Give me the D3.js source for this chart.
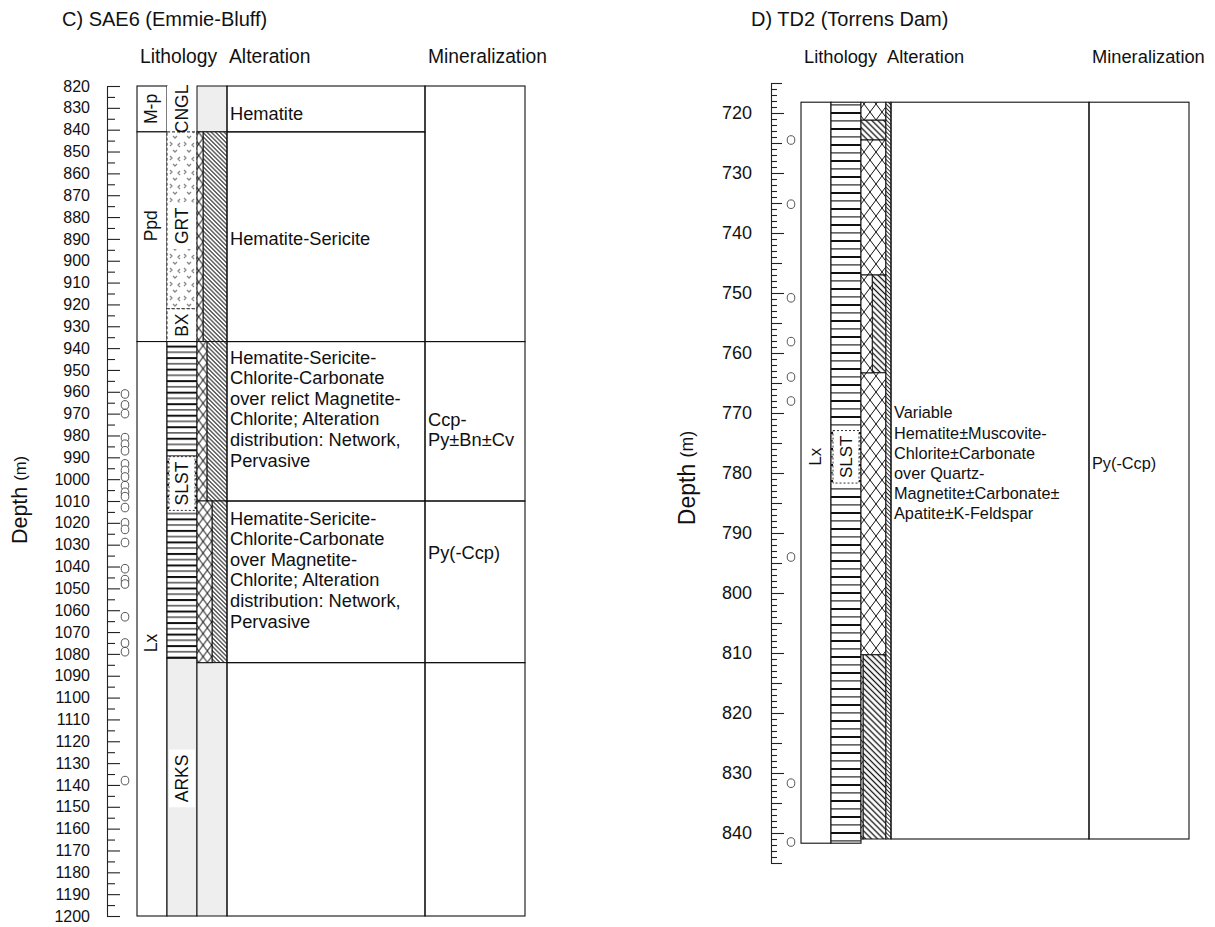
<!DOCTYPE html>
<html>
<head>
<meta charset="utf-8">
<script src="https://cdn.jsdelivr.net/npm/d3@7"></script>
<style>
	body { margin: 0; background: #fff; }
	text { font-family: "Liberation Sans", Arial, Helvetica, sans-serif; fill: #111; }
</style>
</head>
<body>
<div id="chart"></div>
<script>
(function() {
	// C) SAE6 (Emmie-Bluff) - depth ticks, units and logged intervals
	var cDepthTicks = [820, 830, 840, 850, 860, 870, 880, 890, 900, 910, 920, 930, 940, 950, 960, 970, 980, 990, 1000,
		1010, 1020, 1030, 1040, 1050, 1060, 1070, 1080, 1090, 1100, 1110, 1120, 1130, 1140, 1150, 1160, 1170, 1180, 1190, 1200];
	var cFormation = [
		{"name":"M-p","top":820,"bottom":841,"label":830.5},
		{"name":"Ppd","top":841,"bottom":937,"label":884},
		{"name":"Lx","top":937,"bottom":1200,"label":1075}
	];
	var cLithology = [
		{"name":"CNGL","top":820,"bottom":841,"label":830.5},
		{"name":"GRT","top":841,"bottom":922,"label":884},
		{"name":"BX","top":922,"bottom":937,"label":929.5},
		{"name":"SLST","top":937,"bottom":1082,"label":1002},
		{"name":"ARKS","top":1082,"bottom":1200,"label":1137}
	];
	// type = dominant alteration, relict = share of the column held by the older assemblage
	var cAlteration = [
		{"top":820,"bottom":841,"type":"none","relict":0},
		{"top":841,"bottom":937,"type":"hem-ser","relict":0.2},
		{"top":937,"bottom":1010,"type":"hem-ser","relict":0.33},
		{"top":1010,"bottom":1084,"type":"hem-ser","relict":0.5},
		{"top":1084,"bottom":1200,"type":"none","relict":0}
	];
	var cAlterationText = [
		{"top":820,"bottom":841,"center":832.4,"lines":["Hematite"]},
		{"top":841,"bottom":937,"center":889.6,"lines":["Hematite-Sericite"]},
		{"top":937,"bottom":1010,"center":967.7,"lines":["Hematite-Sericite-","Chlorite-Carbonate","over relict Magnetite-","Chlorite; Alteration","distribution: Network,","Pervasive"]},
		{"top":1010,"bottom":1084,"center":1041.4,"lines":["Hematite-Sericite-","Chlorite-Carbonate","over Magnetite-","Chlorite; Alteration","distribution: Network,","Pervasive"]},
		{"top":1084,"bottom":1200,"center":1142,"lines":[]}
	];
	var cMineralization = [
		{"top":820,"bottom":937,"center":878,"lines":[]},
		{"top":937,"bottom":1010,"center":977.3,"lines":["Ccp-","Py±Bn±Cv"]},
		{"top":1010,"bottom":1084,"center":1033.8,"lines":["Py(-Ccp)"]},
		{"top":1084,"bottom":1200,"center":1142,"lines":[]}
	];
	var cSamples = [961, 966, 970, 981, 984, 987, 993, 996, 999, 1003, 1006, 1008, 1013, 1020, 1023, 1029,
		1041, 1046, 1048, 1063, 1075, 1079, 1138];

	// D) TD2 (Torrens Dam)
	var dDepthTicks = [720, 730, 740, 750, 760, 770, 780, 790, 800, 810, 820, 830, 840];
	var dFormation = [
		{"name":"Lx","top":718.2,"bottom":841.7,"label":777.3}
	];
	var dLithology = [
		{"name":"SLST","top":718.2,"bottom":841.7,"label":777.3}
	];
	var dAlteration = [
		{"top":718.2,"bottom":721.2,"type":"hem-chl","relict":0},
		{"top":721.2,"bottom":724.5,"type":"hem-ser","relict":0},
		{"top":724.5,"bottom":747,"type":"hem-chl","relict":0},
		{"top":747,"bottom":763.3,"type":"hem-ser","relict":0.45},
		{"top":763.3,"bottom":810.3,"type":"hem-chl","relict":0},
		{"top":810.3,"bottom":841,"type":"hem-ser","relict":0.08}
	];
	var dVeins = [
		{"top":718.2,"bottom":841,"type":"fine"}
	];
	var dAlterationText = [
		{"top":718.2,"bottom":841,"center":778.3,"lines":["Variable","Hematite±Muscovite-","Chlorite±Carbonate","over Quartz-","Magnetite±Carbonate±","Apatite±K-Feldspar"]}
	];
	var dMineralization = [
		{"top":718.2,"bottom":841,"center":778.3,"lines":["Py(-Ccp)"]}
	];
	var dSamples = [724.5, 735.2, 750.8, 758.1, 764, 768, 794, 831.7, 841.5];

	var headers = ["Lithology", "Alteration", "Mineralization"];

	var width = 1215,
		height = 927;

	var svg = d3.select("#chart")
				.append("svg")
				.attr("width", width)
				.attr("height", height);

	var defs = svg.append("defs");

	// patterns, k scales them (panel C was drawn smaller)
	function addPatterns(sfx, k) {
		var s = 4.2 * k;
		var hatch = defs.append("pattern")
			.attr("id", "hatch" + sfx)
			.attr("patternUnits", "userSpaceOnUse")
			.attr("width", s).attr("height", s)
			.attr("patternTransform", "rotate(-45)");
		hatch.append("rect").attr("width", s).attr("height", s).attr("fill", "#fff");
		hatch.append("line").attr("x1", s / 2).attr("x2", s / 2).attr("y1", 0).attr("y2", s)
			.attr("stroke", "#111").attr("stroke-width", 1.1 * k + 0.2);

		var fs = 2.8;
		var fine = defs.append("pattern")
			.attr("id", "fine" + sfx)
			.attr("patternUnits", "userSpaceOnUse")
			.attr("width", fs).attr("height", fs)
			.attr("patternTransform", "rotate(-45)");
		fine.append("rect").attr("width", fs).attr("height", fs).attr("fill", "#fff");
		fine.append("line").attr("x1", fs / 2).attr("x2", fs / 2).attr("y1", 0).attr("y2", fs)
			.attr("stroke", "#222").attr("stroke-width", 0.9);

		var dw = 12 * k, dh = 16 * k;
		var diamond = defs.append("pattern")
			.attr("id", "diamond" + sfx)
			.attr("patternUnits", "userSpaceOnUse")
			.attr("width", dw).attr("height", dh);
		diamond.append("rect").attr("width", dw).attr("height", dh).attr("fill", "#fff");
		diamond.append("path")
			.attr("d", "M0," + dh / 2 + "L" + dw / 2 + ",0L" + dw + "," + dh / 2 + "L" + dw / 2 + "," + dh + "Z")
			.attr("fill", "none").attr("stroke", "#111").attr("stroke-width", 1);

		var sh = 16 * k;
		var stripes = defs.append("pattern")
			.attr("id", "stripes" + sfx)
			.attr("patternUnits", "userSpaceOnUse")
			.attr("width", 10).attr("height", sh);
		stripes.append("rect").attr("width", 10).attr("height", sh).attr("fill", "#fff");
		stripes.append("rect").attr("y", 0).attr("width", 10).attr("height", 2).attr("fill", "#111");
		stripes.append("rect").attr("y", sh / 2).attr("width", 10).attr("height", 1.7).attr("fill", "#666");

		var granite = defs.append("pattern")
			.attr("id", "granite" + sfx)
			.attr("patternUnits", "userSpaceOnUse")
			.attr("width", 14).attr("height", 14);
		granite.append("rect").attr("width", 14).attr("height", 14).attr("fill", "#fff");
		granite.append("path")
			.attr("d", "M2,2l2,2l-2,2M12,3l-2,2l2,2M5,10l2,2l2,-2")
			.attr("fill", "none").attr("stroke", "#888").attr("stroke-width", 1.3);
	}
	addPatterns("C", 0.72);
	addPatterns("D", 1);

	var rockFill = {
		"CNGL": function() { return "#fff"; },
		"GRT": function(s) { return "url(#granite" + s + ")"; },
		"BX": function() { return "#fff"; },
		"SLST": function(s) { return "url(#stripes" + s + ")"; },
		"ARKS": function() { return "#eeeeee"; }
	};
	var rockStroke = { "CNGL": "none", "GRT": "#444", "BX": "#333", "SLST": "#111", "ARKS": "#111" };
	var rockDash = { "GRT": "3,2", "BX": "3,2" };
	var rockBox = { "GRT": "none", "SLST": "dash", "ARKS": "none" };
	var alterFill = {
		"none": function() { return "#eeeeee"; },
		"hem-ser": function(s) { return "url(#hatch" + s + ")"; },
		"hem-chl": function(s) { return "url(#diamond" + s + ")"; },
		"fine": function(s) { return "url(#fine" + s + ")"; }
	};

	var panels = [
		{
			"id":"C", "title":"C) SAE6 (Emmie-Bluff)", "ticks":cDepthTicks,
			"formation":cFormation, "lithology":cLithology, "alteration":cAlteration, "veins":null,
			"altText":cAlterationText, "mineral":cMineralization, "samples":cSamples,
			domain:[820, 1200], range:[86, 916], axisX:107, colX:137,
			minor:[{step:5, len:8}], majorLen:13, pad:17, tickFont:16,
			textFont:18.3, lineH:20.6, labelFont:17.5, sampleX:125,
			titleX:62, depthX:20, depthY:500, depthFont:21.5, altShare:1,
			headerFont:19.3, altHeaderDx:2
		},
		{
			"id":"D", "title":"D) TD2 (Torrens Dam)", "ticks":dDepthTicks,
			"formation":dFormation, "lithology":dLithology, "alteration":dAlteration, "veins":dVeins,
			"altText":dAlterationText, "mineral":dMineralization, "samples":dSamples,
			domain:[715, 845], range:[83, 863], axisX:771, colX:801,
			minor:[{step:1, len:6}, {step:5, len:11}], majorLen:13, pad:19, tickFont:18,
			textFont:16.3, lineH:20.2, labelFont:17, sampleX:791,
			titleX:751, depthX:687, depthY:478, depthFont:23, altShare:0.83,
			headerFont:18.3, altHeaderDx:-4
		}
	];

	var colWidths = [30, 30, 30, 198, 100];

	panels.forEach(function(p) {
		var g = svg.append("g");

		var yScale = d3.scaleLinear()
						.domain(p.domain)
						.range(p.range);

		var edges = [p.colX];
		colWidths.forEach(function(w, i) { edges.push(edges[i] + w); });

		// title and column headers
		g.append("text")
			.attr("x", p.titleX).attr("y", 26)
			.attr("font-size", 20)
			.text(p.title);

		var headerX = [edges[0] + 3, edges[3] + p.altHeaderDx, edges[4] + 3];
		g.selectAll(".hdr")
			.data(headers)
			.enter()
			.append("text")
			.attr("x", function(d, i) { return headerX[i]; })
			.attr("y", 63)
			.attr("font-size", p.headerFont)
			.text(function(d) { return d; });

		// depth axis: minor ticks, then labelled ticks
		p.minor.forEach(function(m) {
			var vals = d3.range(p.domain[0], p.domain[1] + 0.001, m.step).filter(function(v) {
				return v % 10 !== 0 && (m.step === 5 || v % 5 !== 0);
			});
			var mg = g.append("g")
				.attr("transform", "translate(" + p.axisX + ",0)")
				.call(d3.axisLeft(yScale).tickValues(vals).tickSizeInner(-m.len).tickSizeOuter(0).tickFormat(""));
			mg.select(".domain").remove();
		});
		var ax = g.append("g")
			.attr("transform", "translate(" + p.axisX + ",0)")
			.call(d3.axisLeft(yScale)
				.tickValues(p.ticks)
				.tickSizeInner(-p.majorLen)
				.tickSizeOuter(0)
				.tickPadding(p.pad)
				.tickFormat(d3.format("d")));
		ax.selectAll("line, path").attr("stroke", "#222").attr("stroke-width", 1.1);
		ax.selectAll("text")
			.attr("font-size", p.tickFont)
			.attr("font-family", "'Liberation Sans', Arial, sans-serif")
			.attr("fill", "#111");
		g.selectAll(".tick line").attr("stroke", "#222").attr("stroke-width", 1.1);

		// depth title
		var dt = g.append("text")
			.attr("transform", "translate(" + p.depthX + "," + p.depthY + ") rotate(-90)")
			.attr("text-anchor", "middle")
			.attr("dominant-baseline", "central");
		dt.append("tspan").attr("font-size", p.depthFont).text("Depth ");
		dt.append("tspan").attr("font-size", p.depthFont * 0.77).text("(m)");

		// samples
		g.selectAll(".sample")
			.data(p.samples)
			.enter()
			.append("ellipse")
			.attr("cx", p.sampleX)
			.attr("cy", function(d) { return yScale(d); })
			.attr("rx", 3.8)
			.attr("ry", 4.3)
			.attr("fill", "#fff")
			.attr("stroke", "#444")
			.attr("stroke-width", 0.9);

		function ySpan(d) { return yScale(d.bottom) - yScale(d.top); }

		// formation column
		g.selectAll(".form")
			.data(p.formation)
			.enter()
			.append("rect")
			.attr("x", edges[0]).attr("width", colWidths[0])
			.attr("y", function(d) { return yScale(d.top); })
			.attr("height", ySpan)
			.attr("fill", "#fff").attr("stroke", "#111").attr("stroke-width", 1.1);
		g.selectAll(".formLabel")
			.data(p.formation)
			.enter()
			.append("text")
			.attr("transform", function(d) {
				return "translate(" + (edges[0] + colWidths[0] / 2 - 1) + "," + yScale(d.label) + ") rotate(-90)";
			})
			.attr("text-anchor", "middle")
			.attr("dominant-baseline", "central")
			.attr("font-size", p.labelFont)
			.text(function(d) { return d.name; });

		// lithology column
		g.selectAll(".lith")
			.data(p.lithology)
			.enter()
			.append("rect")
			.attr("x", edges[1]).attr("width", colWidths[1])
			.attr("y", function(d) { return yScale(d.top); })
			.attr("height", ySpan)
			.attr("fill", function(d) { return rockFill[d.name](p.id); })
			.attr("stroke", function(d) { return rockStroke[d.name]; })
			.attr("stroke-dasharray", function(d) { return rockDash[d.name] || null; })
			.attr("stroke-width", 1.1);

		var lab = g.selectAll(".lithLabel")
			.data(p.lithology)
			.enter()
			.append("g")
			.attr("transform", function(d) {
				return "translate(" + (edges[1] + colWidths[1] / 2) + "," + yScale(d.label) + ")";
			});
		lab.each(function(d) {
			var el = d3.select(this);
			var t = el.append("text")
				.attr("transform", "rotate(-90)")
				.attr("text-anchor", "middle")
				.attr("dominant-baseline", "central")
				.attr("font-size", p.labelFont)
				.text(d.name);
			if (rockBox[d.name]) {
				var len = t.node().getComputedTextLength() + 10;
				var hw = colWidths[1] / 2 - 2;
				el.insert("rect", "text")
					.attr("x", -hw).attr("width", hw * 2)
					.attr("y", -len / 2).attr("height", len)
					.attr("fill", "#fff")
					.attr("stroke", rockBox[d.name] === "dash" ? "#333" : "none")
					.attr("stroke-dasharray", "2,2");
			}
		});

		// alteration column
		var altW = colWidths[2] * p.altShare;
		g.selectAll(".alt")
			.data(p.alteration)
			.enter()
			.append("rect")
			.attr("x", function(d) { return edges[2] + altW * d.relict; })
			.attr("width", function(d) { return altW * (1 - d.relict); })
			.attr("y", function(d) { return yScale(d.top); })
			.attr("height", ySpan)
			.attr("fill", function(d) { return alterFill[d.type](p.id); })
			.attr("stroke", "#111").attr("stroke-width", 1);
		g.selectAll(".relict")
			.data(p.alteration.filter(function(d) { return d.relict > 0; }))
			.enter()
			.append("rect")
			.attr("x", edges[2])
			.attr("width", function(d) { return altW * d.relict; })
			.attr("y", function(d) { return yScale(d.top); })
			.attr("height", ySpan)
			.attr("fill", "url(#diamond" + p.id + ")")
			.attr("stroke", "#111").attr("stroke-width", 1);
		if (p.veins) {
			g.selectAll(".vein")
				.data(p.veins)
				.enter()
				.append("rect")
				.attr("x", edges[2] + altW)
				.attr("width", colWidths[2] - altW)
				.attr("y", function(d) { return yScale(d.top); })
				.attr("height", ySpan)
				.attr("fill", function(d) { return alterFill[d.type](p.id); })
				.attr("stroke", "#111").attr("stroke-width", 1);
		}

		// text columns
		function textColumn(data, col) {
			g.selectAll(".box" + col)
				.data(data)
				.enter()
				.append("rect")
				.attr("x", edges[col]).attr("width", colWidths[col])
				.attr("y", function(d) { return yScale(d.top); })
				.attr("height", ySpan)
				.attr("fill", "none").attr("stroke", "#111").attr("stroke-width", 1.1);
			g.selectAll(".txt" + col)
				.data(data)
				.enter()
				.append("text")
				.attr("font-size", p.textFont)
				.each(function(d) {
					var el = d3.select(this);
					var y0 = yScale(d.center) - (d.lines.length - 1) / 2 * p.lineH;
					d.lines.forEach(function(line, i) {
						el.append("tspan")
							.attr("x", edges[col] + 3)
							.attr("y", y0 + i * p.lineH)
							.attr("dominant-baseline", "central")
							.text(line);
					});
				});
		}
		textColumn(p.altText, 3);
		textColumn(p.mineral, 4);
	});
})();
</script>
</body>
</html>
